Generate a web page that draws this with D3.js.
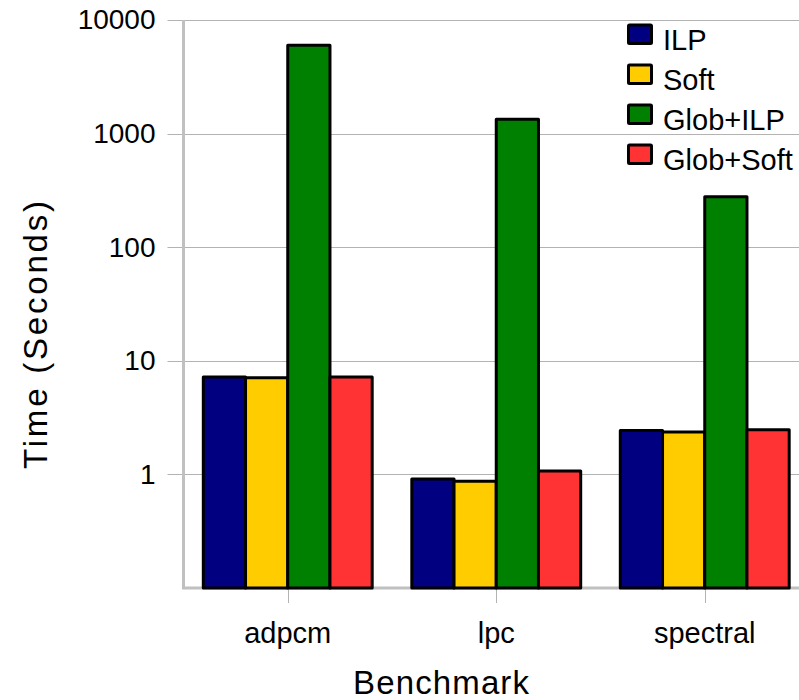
<!DOCTYPE html>
<html>
<head>
<meta charset="utf-8">
<script src="https://cdn.jsdelivr.net/npm/d3@7"></script>
<style>
  body { margin: 0; background: #fff; }
  text { font-family: "Liberation Sans", Arial, sans-serif; fill: #000; }
</style>
</head>
<body>
<div class="graph"></div>
<script>
const benchmarks = ['adpcm', 'lpc', 'spectral'];
const series = ['ILP', 'Soft', 'Glob+ILP', 'Glob+Soft'];
const ilp = [7.2, 0.91, 2.44];
const soft = [7.1, 0.87, 2.36];
const globIlp = [6000, 1340, 278];
const globSoft = [7.2, 1.07, 2.47];
const yTicks = [1, 10, 100, 1000, 10000];
const colors = ['#000080', '#ffcc00', '#008000', '#ff3333'];

const values = [ilp, soft, globIlp, globSoft];
const data = benchmarks.map((b, i) => ({
    name: b,
    vals: series.map((s, j) => ({ key: s, value: values[j][i] }))
}));

const width = 799, height = 700;
const svg = d3.select('.graph')
    .append('svg')
    .attr('width', width)
    .attr('height', height);

const plot = { left: 183.5, right: 809, top: 20, bottom: 588 };

const x0 = d3.scaleBand()
    .domain(benchmarks)
    .range([plot.left, plot.right])
    .paddingInner(0.19)
    .paddingOuter(0.095);
const x1 = d3.scaleBand()
    .domain(series)
    .range([0, x0.bandwidth()]);
const y = d3.scaleLog()
    .domain([0.1, 10000])
    .range([plot.bottom, plot.top]);
const color = d3.scaleOrdinal(series, colors);

// grid
svg.append('g')
    .selectAll('line')
    .data(yTicks)
    .enter()
    .append('line')
    .attr('x1', plot.left - 16)
    .attr('x2', width)
    .attr('y1', d => Math.round(y(d)) + 0.5)
    .attr('y2', d => Math.round(y(d)) + 0.5)
    .attr('stroke', '#b3b3b3')
    .attr('stroke-width', 1);

// y axis
const yAxis = d3.axisLeft(y)
    .tickValues(yTicks)
    .tickSize(0)
    .tickPadding(28)
    .tickFormat(d3.format('d'));
const gy = svg.append('g')
    .attr('transform', `translate(${plot.left},0)`)
    .call(yAxis);
gy.select('.domain').remove();
gy.selectAll('text')
    .attr('fill', '#000')
    .style('font-size', '28px')
    .style('font-family', '"Liberation Sans", Arial, sans-serif');

// x ticks
svg.append('g')
    .selectAll('line')
    .data(benchmarks)
    .enter()
    .append('line')
    .attr('x1', d => Math.round(x0(d) + x0.bandwidth() / 2) + 0.5)
    .attr('x2', d => Math.round(x0(d) + x0.bandwidth() / 2) + 0.5)
    .attr('y1', plot.bottom)
    .attr('y2', plot.bottom + 15)
    .attr('stroke', '#b3b3b3');

// axis lines
svg.append('path')
    .attr('d', `M${plot.left},${plot.top}V${plot.bottom}H${width}`)
    .attr('fill', 'none')
    .attr('stroke', '#c0c0c0')
    .attr('stroke-width', 3);

// bars
const groups = svg.append('g')
    .selectAll('g')
    .data(data)
    .enter()
    .append('g')
    .attr('transform', d => `translate(${x0(d.name)},0)`);
groups.selectAll('rect')
    .data(d => d.vals)
    .enter()
    .append('rect')
    .attr('x', d => x1(d.key))
    .attr('y', d => y(d.value))
    .attr('width', x1.bandwidth())
    .attr('height', d => plot.bottom - y(d.value))
    .attr('fill', d => color(d.key))
    .attr('stroke', '#000')
    .attr('stroke-width', 3)
    .attr('stroke-linejoin', 'round');

// category labels
svg.append('g')
    .selectAll('text')
    .data(benchmarks)
    .enter()
    .append('text')
    .attr('x', d => x0(d) + x0.bandwidth() / 2)
    .attr('y', 643)
    .attr('text-anchor', 'middle')
    .style('font-size', '29px')
    .text(d => d);

// axis titles
svg.append('text')
    .attr('x', 441)
    .attr('y', 694)
    .attr('text-anchor', 'middle')
    .style('font-size', '33px')
    .attr('textLength', 176)
    .text('Benchmark');
svg.append('text')
    .attr('transform', 'translate(47,335) rotate(-90)')
    .attr('text-anchor', 'middle')
    .style('font-size', '33px')
    .attr('textLength', 268)
    .text('Time (Seconds)');

// legend
const legend = svg.append('g')
    .selectAll('g')
    .data(series)
    .enter()
    .append('g')
    .attr('transform', (d, i) => `translate(628.5,${25 + i * 40})`);
legend.append('rect')
    .attr('width', 23)
    .attr('height', 18.5)
    .attr('fill', d => color(d))
    .attr('stroke', '#000')
    .attr('stroke-width', 3)
    .attr('rx', 1);
legend.append('text')
    .attr('x', 34.5)
    .attr('y', 25)
    .style('font-size', '29px')
    .text(d => d);
</script>
</body>
</html>
